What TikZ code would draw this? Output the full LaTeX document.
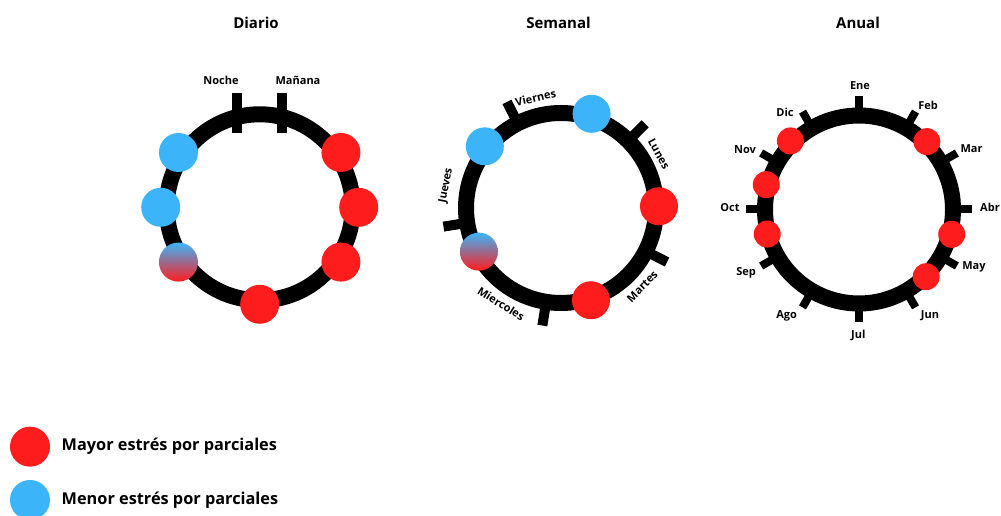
\documentclass[tikz,border=0pt]{standalone}
\usepackage{fontspec}
\setmainfont{Open Sans}
\definecolor{hot}{HTML}{FF1C1C}
\definecolor{calm}{HTML}{3BB4FA}
\begin{document}
\begin{tikzpicture}[x=1pt,y=1pt,
  dot/.style={circle,inner sep=0pt,minimum size=#1},
  hotdot/.style={dot=#1,fill=hot},
  calmdot/.style={dot=#1,fill=calm},
  mixdot/.style={dot=#1,top color=calm,bottom color=hot,middle color=hot!50!calm},
  ring/.style={line width=16pt,draw=black},
  tickmark/.style={line width=#1,draw=black},
  lbl/.style={font=\bfseries\fontsize{11}{13}\selectfont,inner sep=0pt},
  title/.style={font=\bfseries\fontsize{15}{18}\selectfont,inner sep=0pt,anchor=base},
  legend/.style={font=\bfseries\fontsize{16.3}{19}\selectfont,inner sep=0pt,anchor=west},
]
\useasboundingbox (0,0) rectangle (1001,516);

% ---------- titles ----------
\node[title] (tD) at (256,487) {Diario};
\node[title] (tS) at (558.5,487) {Semanal};
\node[title] (tA) at (858,487) {Anual};

% ---------- daily cycle ----------
\coordinate (dc) at (259.7,308.7);
\draw[ring] (dc) circle[radius=93];
\draw[tickmark=10pt] (237,423) -- (237,383);
\draw[tickmark=10pt] (282,423) -- (282,383);
\node[lbl,anchor=base] (noche) at (221,431.5) {Noche};
\node[lbl,anchor=base] (manana) at (298,431.5) {Mañana};
\path (dc) ++(34:98)  node[hotdot=39]  (d1) {};
\path (dc) ++(0:99)   node[hotdot=39]  (d2) {};
\path (dc) ++(-34:98) node[hotdot=39]  (d3) {};
\path (dc) ++(-90:97) node[hotdot=39]  (d4) {};
\path (dc) ++(214:98) node[mixdot=39]  (d5) {};
\path (dc) ++(180:99) node[calmdot=39] (d6) {};
\path (dc) ++(146:98) node[calmdot=39] (d7) {};

% ---------- weekly cycle ----------
\coordinate (sc) at (561,308);
\draw[ring] (sc) circle[radius=95];
\foreach \a in {45,117,189,261,333}
  \draw[tickmark=10pt] (sc) ++(\a:93) -- ++(\a:26);
\path (sc) ++(103:113) node[lbl,rotate=13]  (lvi) {Viernes};
\path (sc) ++(29:112)  node[lbl,rotate=-61] (llu) {Lunes};
\path (sc) ++(-44:113) node[lbl,rotate=46]  (lma) {Martes};
\path (sc) ++(-122:113) node[lbl,rotate=-32] (lmi) {Miercoles};
\path (sc) ++(169:117) node[lbl,rotate=79]  (lju) {Jueves};
\path (sc) ++(72:99)   node[calmdot=38] (s1) {};
\path (sc) ++(141:98)  node[calmdot=38] (s2) {};
\path (sc) ++(1:98)    node[hotdot=38]  (s3) {};
\path (sc) ++(-72:97)  node[hotdot=38]  (s4) {};
\path (sc) ++(208:93)  node[mixdot=38]  (s5) {};

% ---------- yearly cycle ----------
\coordinate (ac) at (859,306.5);
\draw[ring] (ac) circle[radius=94];
\foreach \i in {0,...,11}
  \draw[tickmark=8pt] (ac) ++(90-30*\i:94) -- ++(90-30*\i:19);
\node[lbl] (m0)  at (860,430)   {Ene};
\node[lbl] (m1)  at (928,411)   {Feb};
\node[lbl] (m2)  at (971.5,367.7) {Mar};
\node[lbl] (m3)  at (990,308.7) {Abr};
\node[lbl] (m4)  at (974,249.3) {May};
\node[lbl] (m5)  at (930,200)   {Jun};
\node[lbl] (m6)  at (858.3,181) {Jul};
\node[lbl] (m7)  at (786.7,200) {Ago};
\node[lbl] (m8)  at (746,242.7) {Sep};
\node[lbl] (m9)  at (730,308.7) {Oct};
\node[lbl] (m10) at (745,366)   {Nov};
\node[lbl] (m11) at (785,403.3) {Dic};
\path (ac) ++(45:96)  node[hotdot=27] (a1) {};
\path (ac) ++(-15:96) node[hotdot=27] (a2) {};
\path (ac) ++(-45:95) node[hotdot=27] (a3) {};
\path (ac) ++(195:95) node[hotdot=27] (a4) {};
\path (ac) ++(165:96) node[hotdot=27] (a5) {};
\path (ac) ++(135:97) node[hotdot=27] (a6) {};

% ---------- legend ----------
\node[hotdot=40]  (kh) at (30,69.3) {};
\node[calmdot=40] (kc) at (30,16) {};
\node[legend] (th) at (61.5,69.3) {Mayor estrés por parciales};
\node[legend] (tc) at (61.5,16) {Menor estrés por parciales};
\end{tikzpicture}
\end{document}
